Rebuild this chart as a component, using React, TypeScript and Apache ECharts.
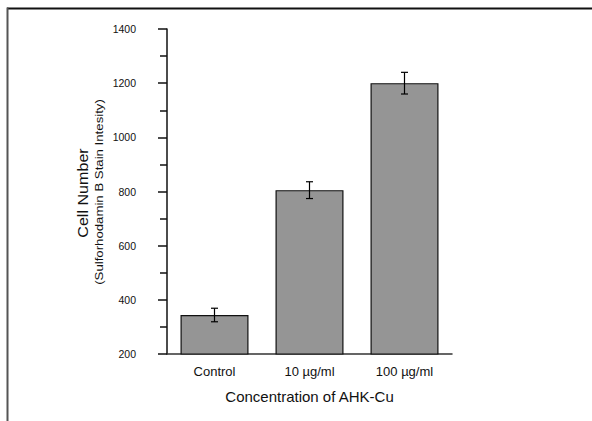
import React, { useEffect, useRef } from "react";
import * as echarts from "echarts";

const categories = ["Control", "10 µg/ml", "100 µg/ml"];
const cellNumber = [344, 805, 1200];
const errorValues = [25, 31, 40];
const yTicks = { min: 200, max: 1400, interval: 200 };
const xTitle = "Concentration of AHK-Cu";
const yTitle = "Cell Number";
const ySubTitle = "(Sulforhodamin B Stain Intesity)";

const FONT = '"Liberation Sans", Arial, Helvetica, sans-serif';

export default function App() {
  const ref = useRef<HTMLDivElement>(null);
  useEffect(() => {
    if (!ref.current) return;
    const chart = echarts.init(ref.current, null, { renderer: "svg" });
    const errData = cellNumber.map((v, i) => [i, v - errorValues[i], v + errorValues[i]]);
    chart.setOption({
      animation: false,
      backgroundColor: "#ffffff",
      grid: { left: 167, top: 29, width: 285, height: 325 },
      xAxis: {
        type: "category",
        data: categories,
        name: xTitle,
        nameLocation: "middle",
        nameGap: 35,
        nameTextStyle: { fontFamily: FONT, fontSize: 15, color: "#111" },
        axisLine: { lineStyle: { color: "#333", width: 1.5 } },
        axisTick: { alignWithLabel: true, length: 5, lineStyle: { color: "#111", width: 1.5 } },
        axisLabel: { fontFamily: FONT, fontSize: 13, color: "#111", margin: 11 },
      },
      yAxis: {
        type: "value",
        min: yTicks.min,
        max: yTicks.max,
        interval: yTicks.interval,
        axisLine: { show: true, lineStyle: { color: "#111", width: 1.5 } },
        axisTick: { show: true, length: 9, lineStyle: { color: "#111", width: 1.5 } },
        minorTick: { show: true, splitNumber: 2, length: 7, lineStyle: { color: "#111", width: 1.5 } },
        splitLine: { show: false },
        axisLabel: {
          fontFamily: FONT,
          fontSize: 10.5,
          color: "#111",
          margin: 31,
          formatter: (v: number) => String(v),
        },
      },
      series: [
        {
          type: "bar",
          data: cellNumber,
          barWidth: 68,
          itemStyle: { color: "#959595", borderColor: "#111", borderWidth: 1.2 },
        },
        {
          type: "custom",
          data: errData,
          z: 10,
          renderItem: (params: any, api: any) => {
            const i = api.value(0);
            const lo = api.coord([i, api.value(1)]);
            const hi = api.coord([i, api.value(2)]);
            const hw = 3.5;
            const style = { stroke: "#000", lineWidth: 1.2 };
            return {
              type: "group",
              children: [
                { type: "line", shape: { x1: lo[0], y1: lo[1], x2: hi[0], y2: hi[1] }, style },
                { type: "line", shape: { x1: hi[0] - hw, y1: hi[1], x2: hi[0] + hw, y2: hi[1] }, style },
                { type: "line", shape: { x1: lo[0] - hw, y1: lo[1], x2: lo[0] + hw, y2: lo[1] }, style },
              ],
            };
          },
        },
      ],
      graphic: [
        { type: "rect", shape: { x: 7, y: 7.5, width: 600, height: 2 }, style: { fill: "#111" } },
        { type: "rect", shape: { x: 6.5, y: 7.5, width: 2, height: 420 }, style: { fill: "#555" } },
        {
          type: "text",
          x: 83,
          y: 193,
          rotation: Math.PI / 2,
          scaleX: 1.15,
          style: { text: yTitle, fontFamily: FONT, fontSize: 14, fill: "#111", align: "center", verticalAlign: "middle" },
        },
        {
          type: "text",
          x: 99,
          y: 192,
          rotation: Math.PI / 2,
          scaleX: 1.17,
          style: { text: ySubTitle, fontFamily: FONT, fontSize: 11.3, fill: "#111", align: "center", verticalAlign: "middle" },
        },
      ],
    });
    return () => chart.dispose();
  }, []);
  return <div ref={ref} style={{ position: "fixed", left: 0, top: 0, width: 592, height: 421 }} />;
}
